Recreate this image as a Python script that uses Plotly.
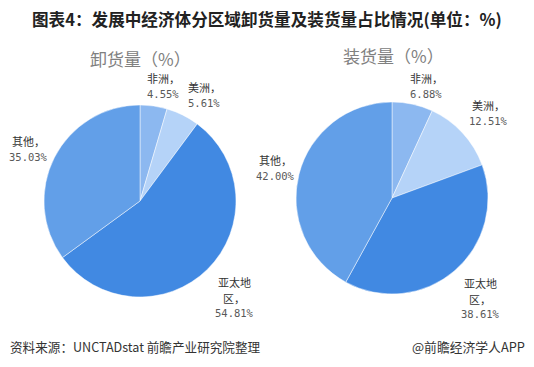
import plotly.graph_objects as go

# reference canvas size; the page body adds an 8px offset, so the figure is drawn 8px smaller
W, H = 534, 367
OFF = 8
FW, FH = W - OFF, H - OFF

regions = ["非洲", "美洲", "亚太地区", "其他"]
label_lines = [["非洲，"], ["美洲，"], ["亚太地", "区，"], ["其他，"]]
unload_share = [4.55, 5.61, 54.81, 35.03]
load_share = [6.88, 12.51, 38.61, 42.00]
colors = ["#8cb8f0", "#b5d3f8", "#4189e2", "#629fe8"]

title = "图表4：发展中经济体分区域卸货量及装货量占比情况(单位：%)"
sub_unload = "卸货量（%）"
sub_load = "装货量（%）"
source = "资料来源：UNCTADstat 前瞻产业研究院整理"
brand = "@前瞻经济学人APP"

# label anchor positions (center x, first-line y) in reference pixels, style only
pos_unload = [(163, 78), (204, 87), (234, 282), (28, 141)]
pos_load = [(426, 78), (488, 105), (480, 283), (275, 160)]
LINE = 16

CJK = "Noto Sans CJK SC"


def px(x, y):
    return (x - OFF) / FW, 1 - (y - OFF) / FH


def dom(x0, x1, y0, y1):
    a, b = px(x0, y1)
    c, d = px(x1, y0)
    return dict(x=[a, c], y=[b, d])


fig = go.Figure()
fig.add_trace(go.Pie(
    labels=regions, values=unload_share, sort=False, direction="clockwise",
    rotation=0, textinfo="none", hoverinfo="label+value",
    marker=dict(colors=colors, line=dict(color="rgba(255,255,255,0.6)", width=0.8)),
    domain=dom(44, 236, 105, 297), showlegend=False,
))
fig.add_trace(go.Pie(
    labels=regions, values=load_share, sort=False, direction="clockwise",
    rotation=0, textinfo="none", hoverinfo="label+value",
    marker=dict(colors=colors, line=dict(color="rgba(255,255,255,0.6)", width=0.8)),
    domain=dom(296, 488, 102, 294), showlegend=False,
))

ann = []


def add_text(x, y, text, size, color, family=CJK, xanchor="center"):
    xx, yy = px(x, y)
    ann.append(dict(x=xx, y=yy, xref="paper", yref="paper", showarrow=False,
                    xanchor=xanchor, yanchor="middle", text=text,
                    font=dict(family=family, size=size, color=color)))


for vals, poss in ((unload_share, pos_unload), (load_share, pos_load)):
    for lines, v, (x, y) in zip(label_lines, vals, poss):
        for i, ln in enumerate(lines):
            add_text(x, y + i * LINE, ln, 11, "#333333")
        add_text(x, y + len(lines) * LINE - (1 if len(lines) > 1 else 0),
                 f"{v:.2f}%", 10.5, "#595959", family="DejaVu Sans Mono")

add_text(140, 58, sub_unload, 17, "#808080")
add_text(393, 56, sub_load, 17, "#808080")
add_text(267, 19, f"<b>{title}</b>", 16.6, "#222222")
add_text(8, 346, source, 12.6, "#333333", xanchor="left")
add_text(527, 346, brand, 12.8, "#333333", xanchor="right")

fig.update_layout(
    width=FW, height=FH, margin=dict(l=0, r=0, t=0, b=0),
    paper_bgcolor="white", plot_bgcolor="white", annotations=ann,
)
fig.write_html("out.html")
